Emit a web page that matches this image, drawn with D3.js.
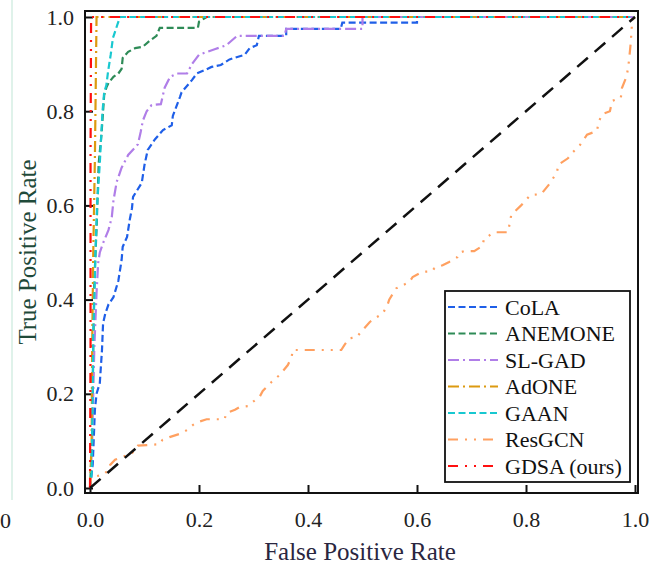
<!DOCTYPE html>
<html>
<head>
<meta charset="utf-8">
<script src="https://cdn.jsdelivr.net/npm/d3@7"></script>
<style>
  body { margin: 0; background: #fff; }
  svg { display: block; }
</style>
</head>
<body>
<div id="chart"></div>
<script>
// ROC points [fpr, tpr]
const cola = [[0,0],[0.005,0.05],[0.009,0.166],[0.012,0.2],[0.018,0.223],[0.022,0.293],[0.024,0.35],[0.028,0.37],[0.034,0.39],[0.043,0.405],[0.052,0.44],[0.058,0.484],[0.06,0.512],[0.068,0.533],[0.073,0.57],[0.077,0.594],[0.079,0.618],[0.095,0.648],[0.1,0.686],[0.106,0.718],[0.119,0.74],[0.134,0.76],[0.15,0.77],[0.152,0.79],[0.165,0.83],[0.168,0.84],[0.187,0.866],[0.196,0.88],[0.21,0.887],[0.223,0.894],[0.24,0.898],[0.256,0.91],[0.284,0.92],[0.293,0.934],[0.306,0.94],[0.31,0.96],[0.36,0.96],[0.36,0.975],[0.46,0.975],[0.463,0.988],[0.6,0.988],[0.6,1],[1,1]];
const anemone = [[0,0],[0.004,0.1],[0.006,0.3],[0.008,0.44],[0.012,0.55],[0.016,0.69],[0.021,0.75],[0.024,0.8],[0.026,0.834],[0.03,0.85],[0.034,0.86],[0.043,0.873],[0.052,0.88],[0.058,0.89],[0.06,0.913],[0.07,0.926],[0.083,0.934],[0.097,0.937],[0.11,0.95],[0.122,0.96],[0.128,0.977],[0.198,0.977],[0.2,0.99],[0.214,1],[1,1]];
const slgad = [[0,0],[0.004,0.1],[0.008,0.3],[0.012,0.414],[0.015,0.478],[0.018,0.5],[0.024,0.52],[0.034,0.548],[0.04,0.575],[0.043,0.61],[0.049,0.65],[0.058,0.68],[0.07,0.707],[0.088,0.73],[0.093,0.756],[0.097,0.78],[0.104,0.8],[0.113,0.813],[0.13,0.815],[0.137,0.85],[0.147,0.873],[0.16,0.88],[0.178,0.88],[0.187,0.9],[0.2,0.92],[0.23,0.932],[0.25,0.94],[0.27,0.96],[0.357,0.96],[0.36,0.975],[0.5,0.975],[0.5,1],[1,1]];
const adone = [[0,0],[0.003,0.1],[0.004,0.3],[0.006,0.5],[0.009,0.7],[0.011,0.9],[0.012,1],[1,1]];
const gaan = [[0,0],[0.003,0.03],[0.005,0.2],[0.006,0.33],[0.008,0.4],[0.01,0.5],[0.013,0.6],[0.018,0.69],[0.021,0.756],[0.023,0.8],[0.026,0.84],[0.03,0.855],[0.033,0.883],[0.038,0.92],[0.042,0.955],[0.05,0.983],[0.055,1],[1,1]];
const resgcn = [[0,0],[0.002,0.023],[0.024,0.028],[0.034,0.038],[0.037,0.049],[0.046,0.06],[0.06,0.066],[0.077,0.074],[0.082,0.08],[0.088,0.09],[0.104,0.091],[0.128,0.093],[0.133,0.102],[0.146,0.108],[0.165,0.115],[0.178,0.123],[0.189,0.134],[0.198,0.14],[0.214,0.146],[0.247,0.146],[0.25,0.159],[0.266,0.166],[0.275,0.172],[0.29,0.174],[0.299,0.183],[0.311,0.193],[0.317,0.206],[0.333,0.225],[0.348,0.24],[0.363,0.261],[0.37,0.278],[0.372,0.293],[0.461,0.293],[0.467,0.304],[0.476,0.318],[0.489,0.32],[0.5,0.335],[0.513,0.352],[0.522,0.36],[0.537,0.37],[0.546,0.389],[0.549,0.4],[0.562,0.424],[0.573,0.43],[0.586,0.437],[0.592,0.448],[0.61,0.459],[0.628,0.46],[0.632,0.467],[0.647,0.473],[0.659,0.48],[0.674,0.49],[0.678,0.5],[0.687,0.503],[0.705,0.503],[0.72,0.514],[0.723,0.529],[0.742,0.543],[0.767,0.543],[0.773,0.58],[0.791,0.6],[0.808,0.622],[0.828,0.624],[0.844,0.647],[0.857,0.671],[0.859,0.686],[0.877,0.7],[0.886,0.713],[0.899,0.728],[0.912,0.75],[0.93,0.758],[0.934,0.779],[0.94,0.794],[0.954,0.8],[0.958,0.822],[0.974,0.828],[0.976,0.849],[0.985,0.875],[0.989,0.907],[0.992,0.943],[0.995,0.994],[1,1]];
const gdsa = [[0,0],[0.001,0.3],[0.001,0.7],[0.002,1],[1,1]];
const chance = [[0,0],[1,1]];

const names = ["CoLA", "ANEMONE", "SL-GAD", "AdONE", "GAAN", "ResGCN", "GDSA (ours)"];
const curves = [cola, anemone, slgad, adone, gaan, resgcn, gdsa];
const ticks = [0, 0.2, 0.4, 0.6, 0.8, 1.0];

const colors = ["#1f5fe8", "#2e8b57", "#b07ee8", "#dc9a10", "#18c8d0", "#ffa060", "#ff1010"];
const dashes = ["7,3.5", "7,3.5", "11,4,2,4", "11,4,2,4", "7,3.5", "10,7,2,7,2,7", "10,7,2,7,2,7"];

const SERIF = "Liberation Serif, Times New Roman, Times, Tinos, DejaVu Serif, serif";

const W = 654, H = 576;
const frame = {left: 85, top: 11, right: 638, bottom: 493};

const x = d3.scaleLinear().domain([0, 1]).range([90, 635]);
const y = d3.scaleLinear().domain([0, 1]).range([488, 17]);

const svg = d3.select("#chart").append("svg")
    .attr("width", W)
    .attr("height", H)
    .attr("font-family", SERIF);

// leftover bits of the neighbouring panel
svg.append("line")
    .attr("x1", 12).attr("x2", 12).attr("y1", 0).attr("y2", 500)
    .attr("stroke", "#dff2ea").attr("stroke-width", 2);
svg.append("text")
    .attr("x", 11).attr("y", 528)
    .attr("text-anchor", "end")
    .attr("font-family", SERIF)
    .attr("font-size", 22)
    .attr("fill", "#222")
    .text("0");

// frame
svg.append("rect")
    .attr("x", frame.left).attr("y", frame.top)
    .attr("width", frame.right - frame.left)
    .attr("height", frame.bottom - frame.top)
    .attr("fill", "none")
    .attr("stroke", "#111")
    .attr("stroke-width", 2);

// axes with inward ticks
const xAxis = svg.append("g")
    .attr("transform", "translate(0," + frame.bottom + ")")
    .call(d3.axisBottom(x).tickValues(ticks).tickFormat(d3.format(".1f")).tickSize(-8).tickPadding(18));
const yAxis = svg.append("g")
    .attr("transform", "translate(" + frame.left + ",0)")
    .call(d3.axisLeft(y).tickValues(ticks).tickFormat(d3.format(".1f")).tickSize(-8).tickPadding(11));

[xAxis, yAxis].forEach(g => {
    g.attr("font-family", SERIF).attr("font-size", 22);
    g.select(".domain").remove();
    g.selectAll(".tick line").attr("stroke", "#111").attr("stroke-width", 2);
    g.selectAll(".tick text")
        .attr("fill", "#222")
        .attr("font-family", SERIF)
        .attr("font-size", 22);
});

// axis labels
svg.append("text")
    .attr("x", 360).attr("y", 560)
    .attr("text-anchor", "middle")
    .attr("fill", "#2a2640")
    .attr("font-family", SERIF)
    .attr("font-size", 25)
    .text("False Positive Rate");

svg.append("text")
    .attr("transform", "translate(36,252) rotate(-90)")
    .attr("text-anchor", "middle")
    .attr("fill", "#1f4a3a")
    .attr("font-family", SERIF)
    .attr("font-size", 25)
    .text("True Positive Rate");

// curves
const line = d3.line().x(d => x(d[0])).y(d => y(d[1]));

svg.append("g").selectAll("path")
    .data(curves)
    .enter().append("path")
    .attr("d", line)
    .attr("fill", "none")
    .attr("stroke", (d, i) => colors[i])
    .attr("stroke-width", 2.2)
    .attr("stroke-dasharray", (d, i) => dashes[i]);

svg.append("path")
    .datum(chance)
    .attr("d", line)
    .attr("fill", "none")
    .attr("stroke", "#111")
    .attr("stroke-width", 2.5)
    .attr("stroke-dasharray", "14,9");

// legend
const legend = svg.append("g");
legend.append("rect")
    .attr("x", 445).attr("y", 291)
    .attr("width", 185).attr("height", 191)
    .attr("fill", "#fff")
    .attr("stroke", "#111")
    .attr("stroke-width", 1.8);

const rows = legend.selectAll(".row")
    .data(names)
    .enter().append("g")
    .attr("class", "row")
    .attr("transform", (d, i) => "translate(0," + (307 + i * 26.5) + ")");

rows.append("line")
    .attr("x1", 448).attr("x2", 498)
    .attr("y1", 0).attr("y2", 0)
    .attr("stroke", (d, i) => colors[i])
    .attr("stroke-width", 2.2)
    .attr("stroke-dasharray", (d, i) => dashes[i]);

rows.append("text")
    .attr("x", 505).attr("y", 0)
    .attr("dy", "0.35em")
    .attr("fill", "#111")
    .attr("font-family", SERIF)
    .attr("font-size", 22)
    .text(d => d);
</script>
</body>
</html>
